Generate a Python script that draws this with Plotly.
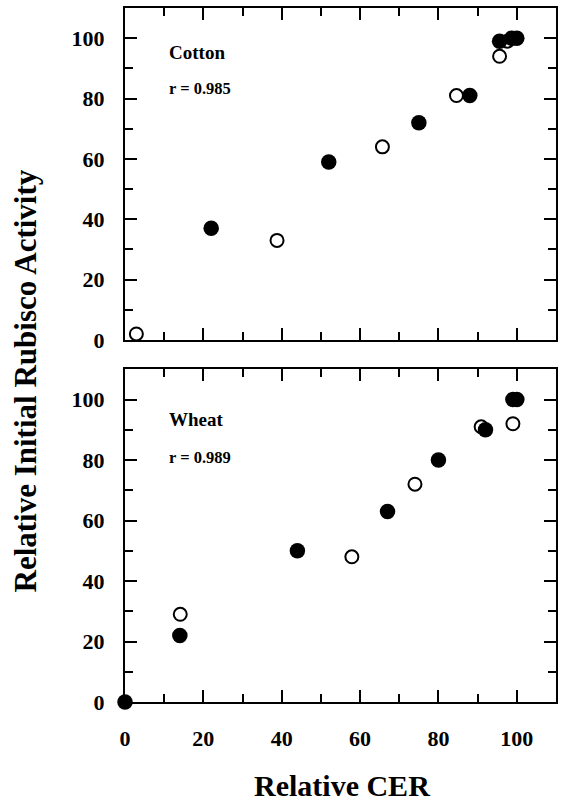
import plotly.graph_objects as go

# Cotton
cotton_filled_x = [22, 52, 75, 88, 95.6, 98.7, 100]
cotton_filled_y = [37, 59, 72, 81, 99, 100, 100]
cotton_open_x = [2.9, 38.8, 65.7, 84.6, 95.6, 97.6]
cotton_open_y = [2, 33, 64, 81, 94, 99]

# Wheat
wheat_filled_x = [0, 14, 44, 67, 80, 92, 99, 100]
wheat_filled_y = [0, 22, 50, 63, 80, 90, 100, 100]
wheat_open_x = [14.1, 57.9, 74, 90.9, 99]
wheat_open_y = [29, 48, 72, 91, 92]

panel_names = ["Cotton", "Wheat"]
panel_r = ["r = 0.985", "r = 0.989"]
tick_vals = [0, 20, 40, 60, 80, 100]
x_title = "Relative CER"
y_title = "Relative Initial Rubisco Activity"

FONT = "Liberation Serif"

fig = go.Figure()

def add_panel(ox, oy, fx, fy, xa, ya):
    fig.add_trace(go.Scatter(x=ox, y=oy, mode="markers", xaxis=xa, yaxis=ya,
                             cliponaxis=False, showlegend=False,
                             marker=dict(size=13, color="white", symbol="circle",
                                         line=dict(color="black", width=2))))
    fig.add_trace(go.Scatter(x=fx, y=fy, mode="markers", xaxis=xa, yaxis=ya,
                             cliponaxis=False, showlegend=False,
                             marker=dict(size=15.5, color="black", symbol="circle",
                                         line=dict(width=0))))

add_panel(cotton_open_x, cotton_open_y, cotton_filled_x, cotton_filled_y, "x", "y")
add_panel(wheat_open_x, wheat_open_y, wheat_filled_x, wheat_filled_y, "x2", "y2")

tickfont = dict(family=FONT, size=22, color="black", weight="bold")

def xaxis_cfg(show_labels, anchor):
    return dict(range=[0, 110], tickvals=tick_vals, showticklabels=show_labels,
                ticks="inside", ticklen=12, tickwidth=2, tickcolor="black",
                minor=dict(ticks="inside", ticklen=8, tickwidth=2, tickcolor="black",
                           tickvals=[10, 30, 50, 70, 90]),
                showline=True, linewidth=2, linecolor="black", mirror="allticks",
                showgrid=False, zeroline=False, tickfont=tickfont,
                ticklabelstandoff=16, anchor=anchor, domain=[0, 1], layer="below traces")

def yaxis_cfg(domain, anchor):
    return dict(range=[0, 110], tickvals=tick_vals,
                ticks="inside", ticklen=12, tickwidth=2, tickcolor="black",
                minor=dict(ticks="inside", ticklen=8, tickwidth=2, tickcolor="black",
                           tickvals=[10, 30, 50, 70, 90]),
                showline=True, linewidth=2, linecolor="black", mirror="allticks",
                showgrid=False, zeroline=False, tickfont=tickfont,
                ticklabelstandoff=14, anchor=anchor, domain=domain, layer="below traces")

fig.update_layout(
    width=562, height=801,
    margin=dict(l=125, r=4, t=8, b=99),
    plot_bgcolor="white", paper_bgcolor="white",
    xaxis=xaxis_cfg(False, "y"),
    yaxis=yaxis_cfg([0.5216, 1.0], "x"),
    xaxis2=xaxis_cfg(True, "y2"),
    yaxis2=yaxis_cfg([0.0, 0.4794], "x2"),
)

ann = []
for i, (name, r) in enumerate(zip(panel_names, panel_r)):
    xr = "x" if i == 0 else "x2"
    yr = "y" if i == 0 else "y2"
    ny = 95.2 if i == 0 else 93.4
    ry = 83.4 if i == 0 else 80.8
    ann.append(dict(x=10.7, y=ny, xref=xr, yref=yr, text=name, showarrow=False,
                    xanchor="left", yanchor="middle",
                    font=dict(family=FONT, size=19, color="black", weight="bold")))
    ann.append(dict(x=10.7, y=ry, xref=xr, yref=yr, text=r, showarrow=False,
                    xanchor="left", yanchor="middle",
                    font=dict(family=FONT, size=16.5, color="black", weight="bold")))

ann.append(dict(x=0.504, y=-0.12, xref="paper", yref="paper", text=x_title,
                showarrow=False, xanchor="center", yanchor="middle",
                font=dict(family=FONT, size=30, color="black", weight="bold")))
ann.append(dict(x=-0.2309, y=0.4625, xref="paper", yref="paper", text=y_title,
                showarrow=False, xanchor="center", yanchor="middle", textangle=-90,
                font=dict(family=FONT, size=31, color="black", weight="bold")))
fig.update_layout(annotations=ann)

fig.write_html("out.html", config={"displayModeBar": False},
               post_script="document.body.style.margin='0';document.body.style.overflow='hidden';")
